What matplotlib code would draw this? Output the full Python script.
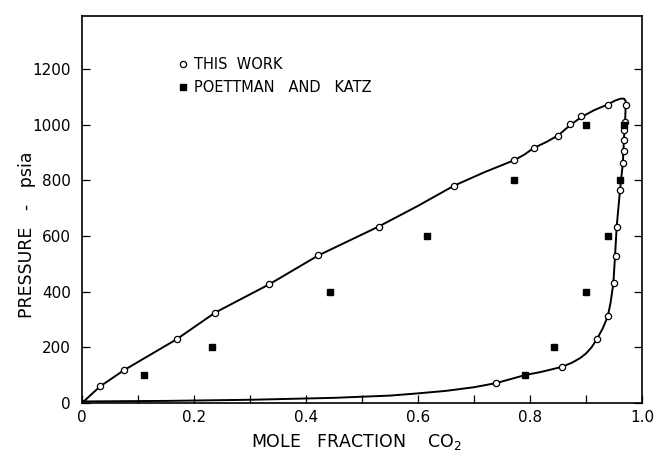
import numpy as np
import matplotlib
matplotlib.use('Agg')
import matplotlib.pyplot as plt


### data
# this work - liquid (bubble) points
xl_this = [0.0325, 0.075, 0.169, 0.238, 0.335, 0.422, 0.530, 0.664, 0.772, 0.807, 0.851, 0.872, 0.892, 0.939]
pl_this = [60, 118, 229, 325, 427, 530, 634, 780, 872, 916, 959, 1001, 1030, 1072]
# this work - vapour (dew) points
xv_this = [0.740, 0.857, 0.920, 0.939, 0.951, 0.953, 0.955, 0.961, 0.966, 0.968, 0.968, 0.968, 0.970, 0.971]
pv_this = [72, 130, 231, 311, 430, 527, 634, 766, 862, 905, 945, 979, 1010, 1072]

# Poettman and Katz
xl_pk = [0.111, 0.233, 0.443, 0.617, 0.772, 0.900]
pl_pk = [100, 200, 400, 600, 800, 1000]
xv_pk = [0.792, 0.843, 0.900, 0.939, 0.961, 0.968]
pv_pk = [100, 200, 400, 600, 800, 1000]

# hand drawn envelope curve (traced)
x_curve = [0.0, 0.0325, 0.075, 0.169, 0.238, 0.335, 0.422, 0.530, 0.600, 0.664, 0.720, 0.772,
           0.790, 0.807, 0.830, 0.851, 0.872, 0.892, 0.915, 0.939, 0.952, 0.962, 0.968, 0.971, 0.971,
           0.970, 0.968, 0.966, 0.961, 0.955, 0.952, 0.949, 0.944, 0.939, 0.930, 0.920,
           0.910, 0.900, 0.890, 0.875, 0.857, 0.820, 0.792, 0.740, 0.700, 0.650, 0.600, 0.550, 0.450,
           0.300, 0.150, 0.0]
p_curve = [0, 60, 118, 229, 325, 427, 530, 634, 708, 780, 830, 872,
           892, 916, 938, 962, 998, 1027, 1052, 1072, 1086, 1093, 1093, 1085, 1066,
           1010, 950, 862, 766, 634, 527, 430, 360, 311, 268, 231,
           200, 178, 162, 145, 130, 112, 101, 72, 57, 44, 35, 27, 19,
           12, 8, 6]


### plot
fig = plt.figure(figsize=(6.55, 4.55), dpi=100)
ax = fig.add_axes([0.125, 0.114, 0.855, 0.851])

ax.plot(x_curve, p_curve, 'k-', lw=1.4, zorder=2)
ax.plot(xl_this + xv_this, pl_this + pv_this, 'o', mfc='white', mec='k', mew=0.9, ms=4.5,
        ls='none', zorder=3, label='THIS  WORK')
ax.plot(xl_pk + xv_pk, pl_pk + pv_pk, 's', color='k', ms=5, ls='none', zorder=4,
        label='POETTMAN   AND   KATZ')

ax.set_xlim(0, 1.0)
ax.set_ylim(0, 1390)
ax.set_xticks([0, 0.2, 0.4, 0.6, 0.8, 1.0])
ax.set_xticks([0.1, 0.3, 0.5, 0.7, 0.9], minor=True)
ax.set_xticklabels(['0', '0.2', '0.4', '0.6', '0.8', '1.0'], fontsize=11)
ax.set_yticks([0, 200, 400, 600, 800, 1000, 1200])
ax.set_yticklabels(['0', '200', '400', '600', '800', '1000', '1200'], fontsize=11)
ax.tick_params(which='both', direction='in', right=True, top=False, length=6, width=0.9)
ax.tick_params(axis='x', pad=5)
ax.tick_params(axis='y', pad=8)
for s in ax.spines.values():
    s.set_linewidth(1.2)

ax.set_xlabel('MOLE   FRACTION    CO$_2$', fontsize=12.5)
ax.xaxis.set_label_coords(0.49, -0.075)
ax.set_ylabel('PRESSURE   -   psia', fontsize=12.5)
ax.yaxis.set_label_coords(-0.082, 0.435)

ax.legend(loc='upper left', bbox_to_anchor=(0.158, 0.912), frameon=False, fontsize=10.5,
          handletextpad=0.35, handlelength=0.8, labelspacing=0.55, borderpad=0)

fig.savefig('out.png', dpi=100)
